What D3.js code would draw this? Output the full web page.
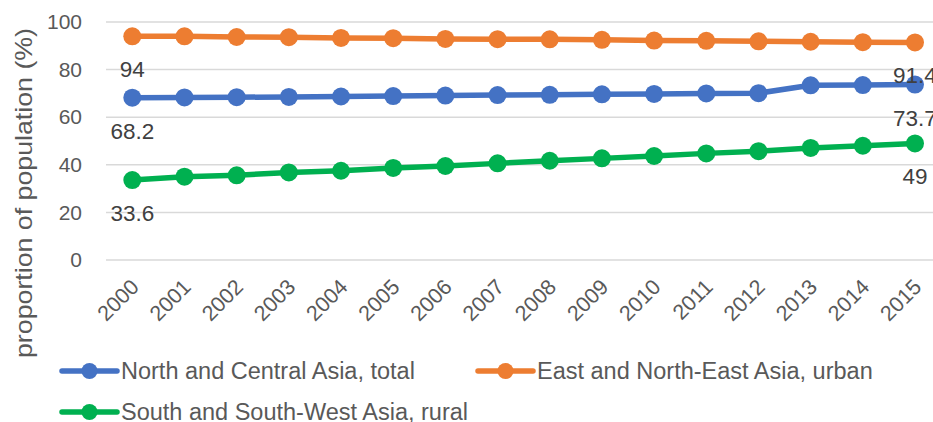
<!DOCTYPE html>
<html>
<head>
<meta charset="utf-8">
<script src="https://cdn.jsdelivr.net/npm/d3@7"></script>
<style>
  body { margin: 0; background: #fff; }
  svg { display: block; font-family: "Liberation Sans", Arial, sans-serif; }
</style>
</head>
<body>
<svg id="chart"></svg>
<script>
// chart data
const years = ['2000','2001','2002','2003','2004','2005','2006','2007','2008','2009','2010','2011','2012','2013','2014','2015'];
const northCentralTotal = [68.2, 68.3, 68.4, 68.5, 68.7, 68.9, 69.1, 69.3, 69.4, 69.6, 69.8, 70.0, 70.1, 73.4, 73.5, 73.7];
const eastNorthEastUrban = [94.0, 94.0, 93.7, 93.6, 93.3, 93.2, 92.9, 92.8, 92.7, 92.5, 92.2, 92.1, 91.9, 91.7, 91.5, 91.4];
const southSouthWestRural = [33.6, 35.0, 35.6, 36.8, 37.5, 38.7, 39.5, 40.6, 41.7, 42.7, 43.7, 44.8, 45.7, 47.1, 48.0, 49.0];
const yTicks = [0, 20, 40, 60, 80, 100];
const seriesNames = ['North and Central Asia, total', 'East and North-East Asia, urban', 'South and South-West Asia, rural'];

const series = [
    { name: seriesNames[0], values: northCentralTotal, color: '#4472C4' },
    { name: seriesNames[1], values: eastNorthEastUrban, color: '#ED7D31' },
    { name: seriesNames[2], values: southSouthWestRural, color: '#00B050' }
];

const width = 933, height = 422;
const svg = d3.select('#chart').attr('width', width).attr('height', height);

// plot area (right edge runs past the window, like the source image)
const plotLeft = 106, plotRight = 941;
const x = d3.scalePoint().domain(years).range([132.3, 915]);
const y = d3.scaleLinear().domain([0, 100]).range([260, 22]);

// gridlines
svg.append('g')
    .selectAll('line')
    .data(yTicks)
    .join('line')
    .attr('x1', plotLeft)
    .attr('x2', plotRight)
    .attr('y1', d => y(d))
    .attr('y2', d => y(d))
    .attr('stroke', '#d9d9d9')
    .attr('stroke-width', 1.5);

// y axis labels
const yAxis = svg.append('g')
    .attr('transform', `translate(${plotLeft}, 0)`)
    .call(d3.axisLeft(y).tickValues(yTicks).tickSize(0).tickPadding(24));
yAxis.select('.domain').remove();
yAxis.selectAll('text')
    .attr('fill', '#595959')
    .style('font-size', '21px')
    .style('font-family', '"Liberation Sans", Arial, sans-serif');

// x axis labels, rotated
const xAxis = svg.append('g')
    .attr('transform', 'translate(0, 268)')
    .call(d3.axisBottom(x).tickSize(0).tickPadding(0));
xAxis.select('.domain').remove();
xAxis.selectAll('text')
    .attr('fill', '#595959')
    .style('font-size', '21.5px')
    .style('font-family', '"Liberation Sans", Arial, sans-serif')
    .attr('text-anchor', 'end')
    .attr('dy', '0.35em')
    .attr('transform', 'translate(2, 15) rotate(-45)');

// y axis title
svg.append('text')
    .attr('transform', 'translate(32, 193) rotate(-90)')
    .attr('text-anchor', 'middle')
    .attr('fill', '#595959')
    .attr('textLength', 330)
    .attr('lengthAdjust', 'spacingAndGlyphs')
    .style('font-size', '24px')
    .text('proportion of population (%)');

// lines and markers
const line = d3.line()
    .x((d, i) => x(years[i]))
    .y(d => y(d));

const groups = svg.append('g')
    .selectAll('g')
    .data(series)
    .join('g');

groups.append('path')
    .attr('d', d => line(d.values))
    .attr('fill', 'none')
    .attr('stroke', d => d.color)
    .attr('stroke-width', 5.5)
    .attr('stroke-linejoin', 'round');

groups.selectAll('circle')
    .data(d => d.values.map(v => ({ v, color: d.color })))
    .join('circle')
    .attr('cx', (d, i) => x(years[i]))
    .attr('cy', d => y(d.v))
    .attr('r', 9)
    .attr('fill', d => d.color);

// data labels on first and last points
groups.each(function(d) {
    const g = d3.select(this);
    const last = d.values.length - 1;
    [0, last].forEach(i => {
        g.append('text')
            .attr('x', x(years[i]))
            .attr('y', y(d.values[i]) + 41)
            .attr('text-anchor', 'middle')
            .attr('fill', '#404040')
            .style('font-size', '22.5px')
            .text(d.values[i]);
    });
});

// legend
const legendPos = [[62, 371], [478, 371], [62, 412]];
const legend = svg.append('g')
    .selectAll('g')
    .data(series)
    .join('g')
    .attr('transform', (d, i) => `translate(${legendPos[i][0]}, ${legendPos[i][1]})`);

legend.append('line')
    .attr('x1', 0)
    .attr('x2', 55)
    .attr('stroke', d => d.color)
    .attr('stroke-width', 5.5)
    .attr('stroke-linecap', 'round');

legend.append('circle')
    .attr('cx', 27.5)
    .attr('r', 8)
    .attr('fill', d => d.color);

legend.append('text')
    .attr('x', 59)
    .attr('dy', '0.35em')
    .attr('fill', '#595959')
    .style('font-size', '23.5px')
    .text(d => d.name);
</script>
</body>
</html>
